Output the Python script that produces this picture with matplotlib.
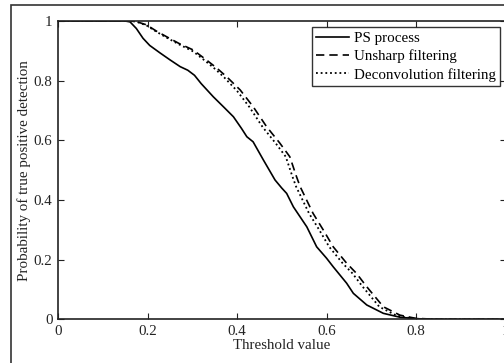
import matplotlib
matplotlib.use("Agg")
import matplotlib.pyplot as plt
from matplotlib.patches import Rectangle
import numpy as np

plt.rcParams['font.family'] = ['Liberation Serif', 'DejaVu Serif']

ps_x = [0.0, 0.10, 0.15, 0.161, 0.175, 0.19, 0.205, 0.228, 0.25, 0.273, 0.290, 0.305, 0.320, 0.347, 0.37, 0.392,
        0.410, 0.422, 0.436, 0.459, 0.485, 0.500, 0.511, 0.526, 0.556, 0.578, 0.600, 0.615, 0.645, 0.660, 0.690, 0.727,
        0.764, 0.80, 0.85, 1.0]
ps_y = [1.0, 1.0, 1.0, 0.997, 0.975, 0.942, 0.918, 0.893, 0.870, 0.847, 0.835, 0.818, 0.790, 0.746, 0.712, 0.679,
        0.640, 0.612, 0.595, 0.534, 0.467, 0.440, 0.422, 0.377, 0.310, 0.243, 0.205, 0.176, 0.121, 0.087, 0.048, 0.020,
        0.007, 0.002, 0.0, 0.0]

un_x = [0.0, 0.10, 0.16, 0.175, 0.198, 0.22, 0.243, 0.27, 0.302, 0.332, 0.355, 0.377, 0.407, 0.436,
        0.466, 0.496, 0.518, 0.533, 0.541, 0.570, 0.593, 0.615, 0.645, 0.667, 0.690, 0.727, 0.764,
        0.80, 0.85, 1.0]
un_y = [1.0, 1.0, 1.0, 0.998, 0.987, 0.966, 0.947, 0.925, 0.903, 0.869, 0.842, 0.813, 0.769, 0.713,
        0.646, 0.590, 0.545, 0.478, 0.445, 0.355, 0.299, 0.243, 0.188, 0.154, 0.109, 0.042, 0.014,
        0.003, 0.0, 0.0]

dc_x = [0.0, 0.10, 0.16, 0.175, 0.198, 0.22, 0.243, 0.27, 0.302, 0.330, 0.352, 0.372, 0.400, 0.428,
        0.457, 0.487, 0.509, 0.524, 0.532, 0.561, 0.584, 0.606, 0.636, 0.658, 0.681, 0.718, 0.757,
        0.795, 0.85, 1.0]
dc_y = [1.0, 1.0, 1.0, 0.998, 0.985, 0.964, 0.944, 0.922, 0.898, 0.865, 0.838, 0.810, 0.766, 0.711,
        0.645, 0.589, 0.545, 0.478, 0.445, 0.355, 0.299, 0.243, 0.188, 0.154, 0.109, 0.042, 0.012,
        0.002, 0.0, 0.0]

fig = plt.figure(figsize=(5.04, 3.63), dpi=100)
W, H = 504, 363
ax = fig.add_axes([58 / W, (H - 319.3) / H, 447.5 / W, 298.3 / H])

ax.plot(ps_x, ps_y, color='black', lw=1.2, ls='-', label='PS process')
ax.plot(un_x, un_y, color='black', lw=1.2, ls=(0, (5, 3)), label='Unsharp filtering')
ax.plot(dc_x, dc_y, color='black', lw=1.3, ls=(0, (1, 1.6)), label='Deconvolution filtering')

FS = 10.8
ax.set_xlim(0, 1)
ax.set_ylim(0, 1)
ax.set_xticks([0, 0.2, 0.4, 0.6, 0.8, 1.0])
ax.set_xticklabels(['0', '0.2', '0.4', '0.6', '0.8', '1'])
ax.set_yticks([0, 0.2, 0.4, 0.6, 0.8, 1.0])
ax.set_yticklabels(['0', '0.2', '0.4', '0.6', '0.8', '1'])
ax.tick_params(direction='in', top=True, right=True, length=4, width=0.8,
               labelsize=FS, colors='#222222', pad=4)
for s in ax.spines.values():
    s.set_linewidth(1.2)
    s.set_color('#222222')
ax.set_xlabel('Threshold value', fontsize=FS, labelpad=1, color='#222222')
ax.set_ylabel('Probability of true positive detection', fontsize=FS, labelpad=2, color='#222222')

leg = ax.legend(loc='upper right', bbox_to_anchor=(500 / W, (H - 27) / H),
                bbox_transform=fig.transFigure, fontsize=FS, frameon=True, fancybox=False,
                edgecolor='black', borderpad=0.3, labelspacing=0.3, handlelength=2.2,
                handletextpad=0.3, borderaxespad=0)
leg.get_frame().set_linewidth(1.0)

fig.patches.append(Rectangle((11 / W, -0.1), 1.0, (H - 5) / H + 0.1, transform=fig.transFigure,
                             fill=False, edgecolor='#333333', lw=1.2))

fig.savefig('out.png', dpi=100)
